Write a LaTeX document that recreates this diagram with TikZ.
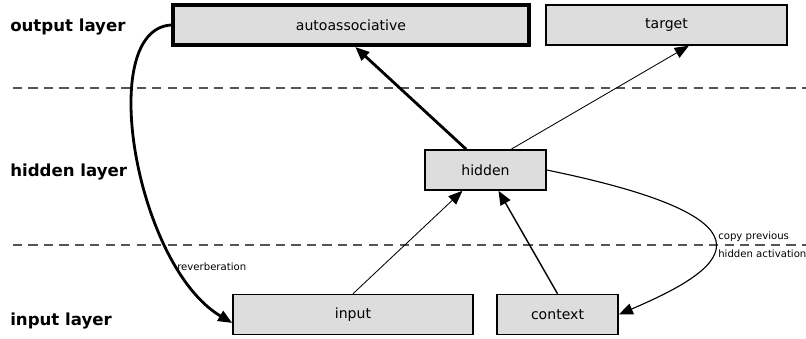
\documentclass[tikz,border=0pt]{standalone}
\usepackage{fontspec}
\setmainfont{DejaVu Sans}
\usetikzlibrary{arrows.meta}
\definecolor{boxgray}{HTML}{DDDDDD}
\definecolor{dashgray}{HTML}{555555}

\begin{document}
\begin{tikzpicture}[x=0.025cm, y=-0.025cm,
    >={Triangle[length=10pt,width=8pt]},
    unit/.style={draw, line width=1.1pt, fill=boxgray, inner sep=0pt, minimum height=1cm,
        font=\fontsize{10}{12}\selectfont},
    layer/.style={anchor=west, inner sep=0pt, font=\fontsize{11.8}{14}\selectfont\bfseries},
    note/.style={anchor=west, inner sep=0pt, font=\fontsize{7.2}{8.5}\selectfont},
    divider/.style={draw=dashgray, line width=1.4pt, dash pattern=on 6.5pt off 4.5pt}]
    \useasboundingbox (0,0) rectangle (806,338);
    % Layers
    \node[layer] (outlab) at (10,27) {output layer};
    \node[layer] (hidlab) at (10,172) {hidden layer};
    \node[layer] (inlab) at (10,321) {input layer};
    \draw[divider] (13,88) -- (806,88);
    \draw[divider] (13,245) -- (806,245);
    % Units
    \node[unit, line width=2.8pt, minimum width=8.9cm] (auto) at (351,25) {autoassociative};
    \node[unit, minimum width=6.025cm] (target) at (666.5,25) {target};
    \node[unit, minimum width=3.025cm] (hidden) at (485.5,170) {hidden};
    \node[unit, minimum width=6cm] (input) at (353,314.5) {input};
    \node[unit, minimum width=3.025cm] (context) at (557.5,314.5) {context};
    % Feed-forward
    \draw[->, line width=0.6pt] (input.north) -- (hidden.-138);
    \draw[->, line width=1pt] (context.north) -- (hidden.-58);
    \draw[->, line width=2pt] (hidden.133) -- (auto.-79);
    \draw[->, line width=0.6pt] (hidden.39) -- (target.-43);
    % Recurrent copies
    \draw[->, line width=0.8pt] (hidden.east) .. controls (800,222) and (718,272) .. (context.east);
    \node[note] (copy1) at (718,237) {copy previous};
    \node[note] (copy2) at (718,254) {hidden activation};
    \draw[->, line width=2pt] (auto.west) .. controls (95,30) and (136,266) .. (input.-176);
    \node[note] (reverb) at (177,267) {reverberation};
\end{tikzpicture}
\end{document}
